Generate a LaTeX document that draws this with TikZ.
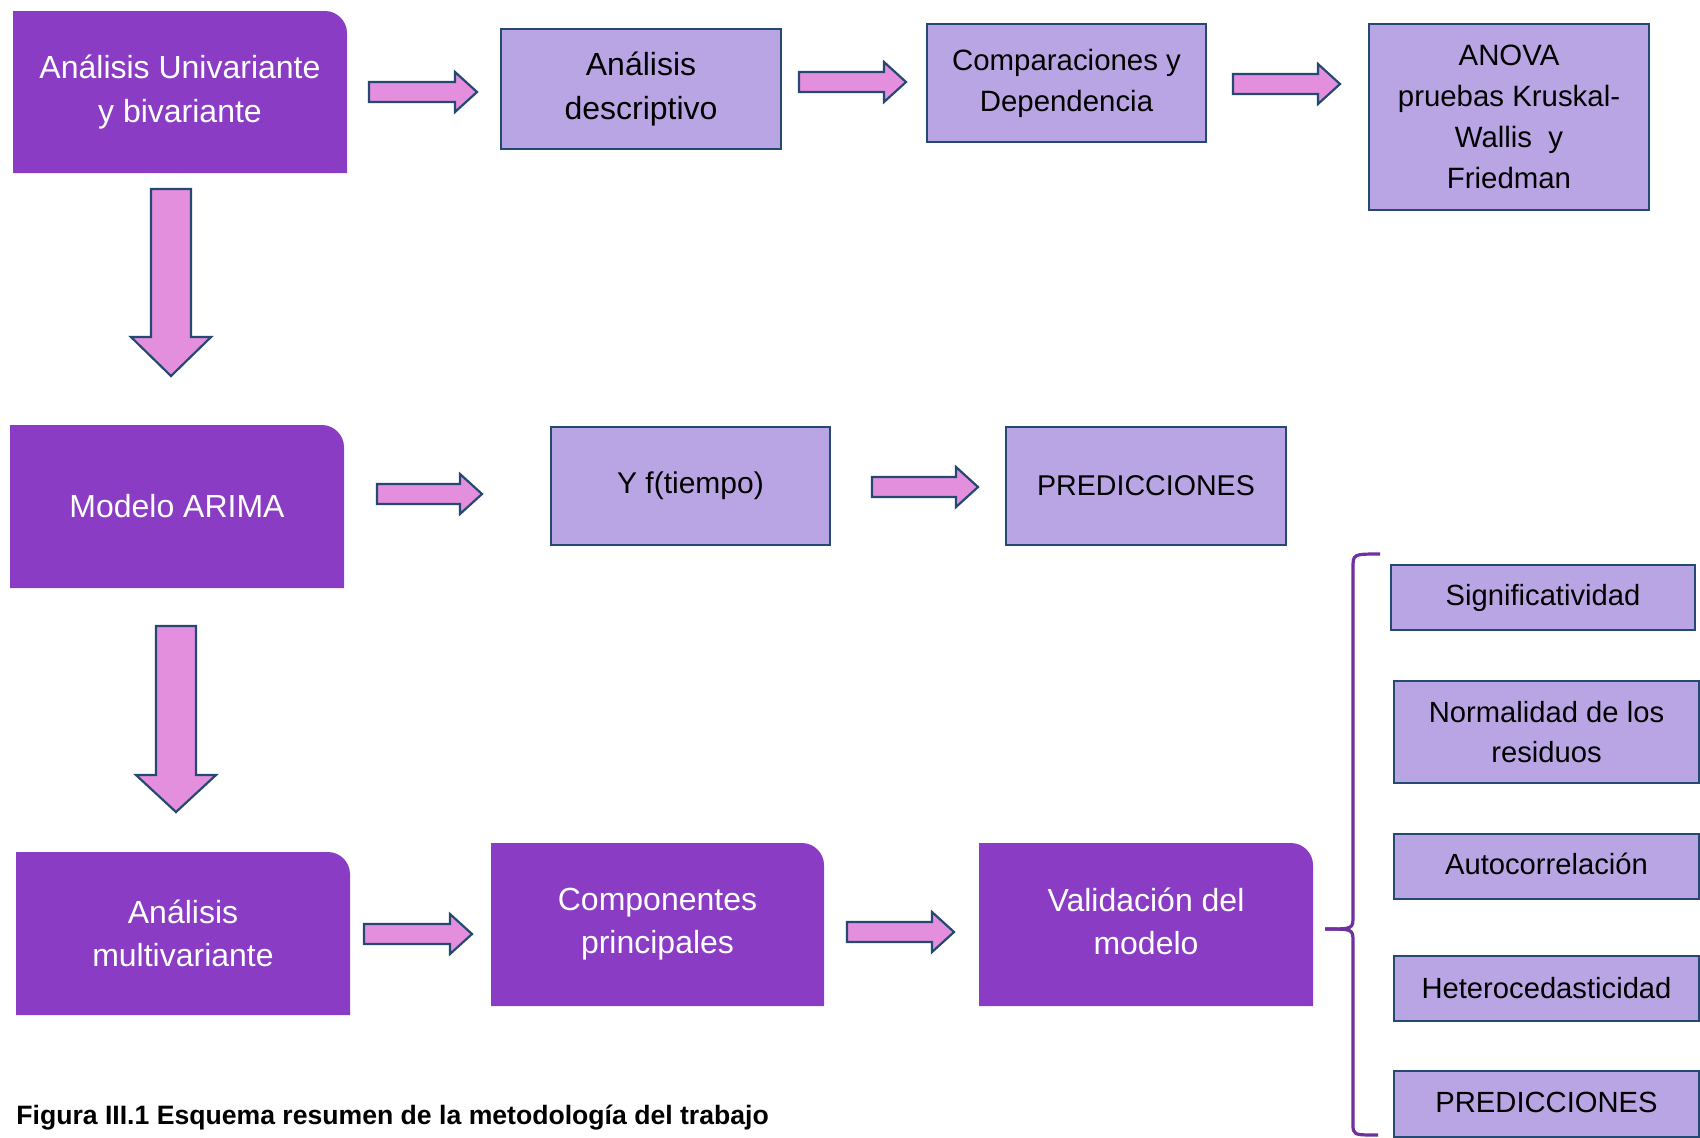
\documentclass[tikz,border=0pt]{standalone}
\usepackage{fontspec}
\setmainfont{Liberation Sans}
\definecolor{dpur}{RGB}{139,60,196}
\definecolor{lpur}{RGB}{186,165,228}
\definecolor{bblue}{RGB}{36,74,115}
\definecolor{apink}{RGB}{228,143,221}
\definecolor{brk}{RGB}{112,48,160}
\tikzset{
  dtext/.style={text=white, align=center, inner sep=0pt},
  lboxst/.style={draw=bblue, fill=lpur, line width=1.25pt, inner sep=0pt, align=center, text=black},
  arrst/.style={fill=apink, draw=bblue, line width=1.1pt, line join=miter},
  fA/.style={font=\fontsize{16}{21.6}\selectfont},
  fB/.style={font=\fontsize{14.7}{20.5}\selectfont},
  fC/.style={font=\fontsize{14.6}{20.2}\selectfont},
  fD/.style={font=\fontsize{15}{18}\selectfont},
  fE/.style={font=\fontsize{14.3}{18}\selectfont},
}
\newcommand\dbox[7]{%
  \fill[dpur] (#2,#3) -- ({#4-22},#3) .. controls ({#4-10},#3) and (#4,{#3+10}) .. (#4,{#3+22}) -- (#4,#5) -- (#2,#5) -- cycle;
  \node[dtext,#6] (#1) at ({(#2+#4)/2},{(#3+#5)/2}) {#7};}
\newcommand\lbox[7]{%
  \node[lboxst,#6, minimum width={(#4-#2)*0.5pt}, minimum height={(#5-#3)*0.5pt}] (#1) at ({(#2+#4)/2},{(#3+#5)/2}) {#7};}
\newcommand\rarr[3]{%
  \filldraw[arrst] (#1,{#3-10}) -- ({#2-22},{#3-10}) -- ({#2-22},{#3-20}) -- (#2,#3) -- ({#2-22},{#3+20}) -- ({#2-22},{#3+10}) -- (#1,{#3+10}) -- cycle;}
\newcommand\darr[4]{% cx, top, headstart, tip
  \filldraw[arrst] ({#1-20},#2) -- ({#1+20},#2) -- ({#1+20},#3) -- ({#1+40},#3) -- (#1,#4) -- ({#1-40},#3) -- ({#1-20},#3) -- cycle;}
\begin{document}
\begin{tikzpicture}[x=0.5pt,y=-0.5pt]
\useasboundingbox (0,0) rectangle (1700,1137);
% row 1
\dbox{uni}{13}{11}{347}{173}{fA}{Análisis Univariante\\y bivariante}
\rarr{369}{477}{92}
\lbox{desc}{501}{29}{781}{149}{fA}{Análisis\\descriptivo}
\rarr{799}{906}{82}
\lbox{comp}{927}{24}{1206}{142}{fB}{Comparaciones y\\Dependencia}
\rarr{1233}{1340}{84}
\lbox{anova}{1369}{24}{1649}{210}{fB}{ANOVA\\pruebas Kruskal-\\Wallis\ \ y\\Friedman}
\darr{171}{189}{337}{376}
% row 2
\dbox{arima}{10}{425}{344}{588}{fA}{Modelo ARIMA}
\rarr{377}{482}{494}
\lbox{yf}{551}{427}{830}{545}{fD}{Y f(tiempo)}
\rarr{872}{978}{487}
\lbox{pred}{1006}{427}{1286}{545}{fE}{PREDICCIONES}
\darr{176}{626}{775}{812}
% row 3
\dbox{multi}{16}{852}{350}{1015}{fA}{Análisis\\multivariante}
\rarr{364}{472}{934}
\dbox{cp}{491}{843}{824}{1006}{fA}{Componentes\\principales}
\rarr{847}{954}{932}
\dbox{val}{979}{843}{1313}{1006}{fA, yshift=1.5pt}{Validación del\\modelo}
% bracket
\draw[brk, line width=1.6pt] (1380,554) .. controls (1353,554) .. (1353,568) -- (1353,916) .. controls (1353,929) .. (1325,929);
\draw[brk, line width=1.6pt] (1325,929) .. controls (1353,929) .. (1353,942) -- (1353,1124) .. controls (1353,1135) .. (1378,1135);
% checks
\lbox{sig}{1391}{565}{1695}{630}{fC}{Significatividad}
\lbox{norm}{1394}{681}{1699}{783}{fC}{Normalidad de los\\residuos}
\lbox{auto}{1394}{834}{1699}{899}{fC, text height=11.5pt, text depth=3.5pt}{Autocorrelación}
\lbox{het}{1394}{956}{1699}{1021}{fC}{Heterocedasticidad}
\lbox{pred2}{1394}{1071}{1699}{1137}{fC, text depth=2pt}{PREDICCIONES}
% caption
\node[anchor=base west, inner sep=0pt, font=\bfseries\fontsize{13.3}{16}\selectfont] (cap) at (16,1124) {Figura III.1 Esquema resumen de la metodología del trabajo};
\end{tikzpicture}
\end{document}
